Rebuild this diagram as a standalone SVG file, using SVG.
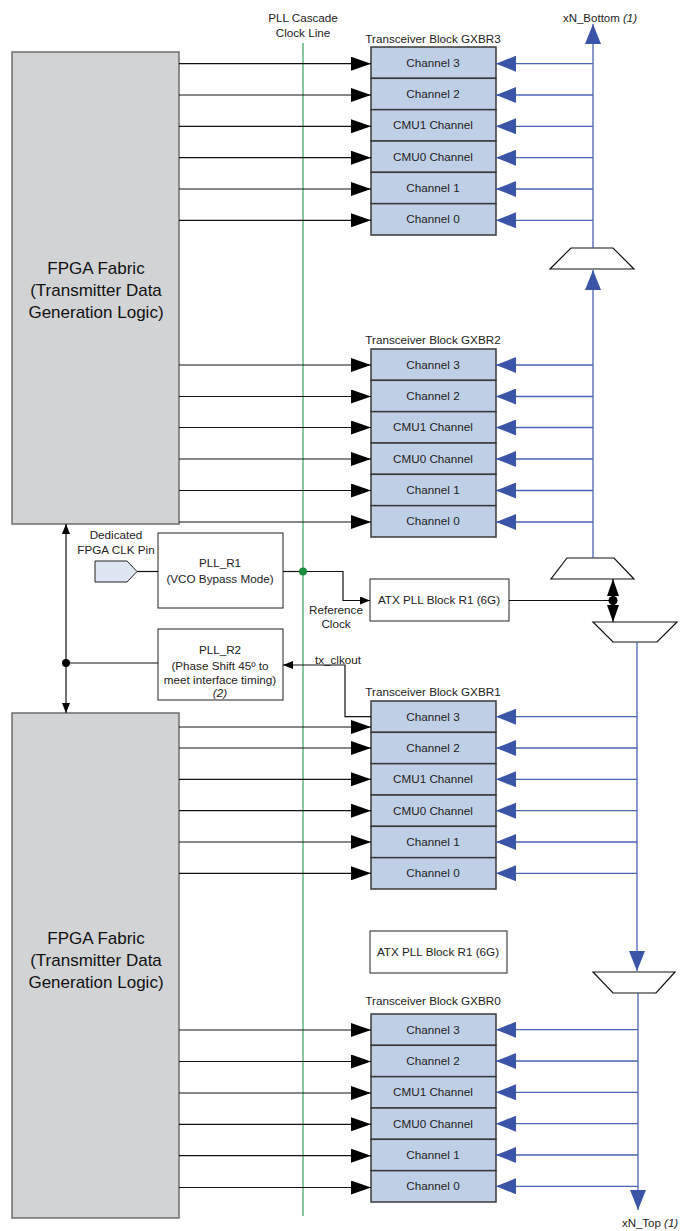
<svg xmlns="http://www.w3.org/2000/svg" width="681" height="1231" viewBox="0 0 681 1231">
<style>
text{font-family:"Liberation Sans",Arial,sans-serif;fill:#222;}
.t11{font-size:11.7px;text-anchor:middle;}
.fpga{fill:#d2d3d5;stroke:#6e6e6e;stroke-width:1.5;}
.fpt{font-size:17px;text-anchor:middle;fill:#111;}
.ch{fill:#bfd0e6;stroke:#3a3a3a;stroke-width:1.5;}
.box{fill:#fff;stroke:#222;stroke-width:1;}
.mux{fill:#fff;stroke:#111;stroke-width:1.2;}
.bk{stroke:#111;stroke-width:1.2;fill:none;}
.bl{stroke:#4a63b3;stroke-width:1.3;fill:none;}
.gr{stroke:#5fb47c;stroke-width:1.5;fill:none;}
</style>
<defs>
<marker id="ab" viewBox="0 0 20 14" refX="20" refY="7" markerWidth="20" markerHeight="14" orient="auto" markerUnits="userSpaceOnUse"><path d="M0,0L20,7L0,14z" fill="#000"/></marker>
<marker id="au" viewBox="0 0 20 16" refX="20" refY="8" markerWidth="20" markerHeight="16" orient="auto" markerUnits="userSpaceOnUse"><path d="M0,0L20,8L0,16z" fill="#3a54a8"/></marker>
<marker id="as" viewBox="0 0 10 8" refX="10" refY="4" markerWidth="10" markerHeight="8" orient="auto" markerUnits="userSpaceOnUse"><path d="M0,0L10,4L0,8z" fill="#000"/></marker>
<marker id="ad" viewBox="0 0 17 12" refX="17" refY="6" markerWidth="17" markerHeight="12" orient="auto" markerUnits="userSpaceOnUse"><path d="M0,0L17,6L0,12z" fill="#000"/></marker>
</defs>

<g id="cascade-line">
<line class="gr" x1="303" y1="43" x2="303" y2="1216"/>
<text class="t11" x="303" y="22">PLL Cascade</text>
<text class="t11" x="303" y="37">Clock Line</text>
</g>

<g id="fpga1">
<rect class="fpga" x="12" y="52" width="167" height="472"/>
<text class="fpt" x="96" y="274">FPGA Fabric</text>
<text class="fpt" x="96" y="296">(Transmitter Data</text>
<text class="fpt" x="96" y="318">Generation Logic)</text>
</g>
<g id="fpga2">
<rect class="fpga" x="12" y="713" width="167" height="505"/>
<text class="fpt" x="96" y="944">FPGA Fabric</text>
<text class="fpt" x="96" y="966">(Transmitter Data</text>
<text class="fpt" x="96" y="988">Generation Logic)</text>
</g>

<g id="gxbr3">
<text class="t11" x="433" y="43">Transceiver Block GXBR3</text>
<rect class="ch" x="371" y="47" width="125" height="31.33"/>
<rect class="ch" x="371" y="78.33" width="125" height="31.33"/>
<rect class="ch" x="371" y="109.67" width="125" height="31.33"/>
<rect class="ch" x="371" y="141" width="125" height="31.33"/>
<rect class="ch" x="371" y="172.33" width="125" height="31.33"/>
<rect class="ch" x="371" y="203.67" width="125" height="31.33"/>
<text class="t11" x="433" y="67">Channel  3</text>
<text class="t11" x="433" y="98">Channel  2</text>
<text class="t11" x="433" y="129">CMU1 Channel</text>
<text class="t11" x="433" y="161">CMU0 Channel</text>
<text class="t11" x="433" y="192">Channel  1</text>
<text class="t11" x="433" y="223">Channel  0</text>
</g>
<g id="gxbr2">
<text class="t11" x="433" y="344">Transceiver Block GXBR2</text>
<rect class="ch" x="371" y="349" width="125" height="31.33"/>
<rect class="ch" x="371" y="380.33" width="125" height="31.33"/>
<rect class="ch" x="371" y="411.67" width="125" height="31.33"/>
<rect class="ch" x="371" y="443" width="125" height="31.33"/>
<rect class="ch" x="371" y="474.33" width="125" height="31.33"/>
<rect class="ch" x="371" y="505.67" width="125" height="31.33"/>
<text class="t11" x="433" y="369">Channel  3</text>
<text class="t11" x="433" y="400">Channel  2</text>
<text class="t11" x="433" y="431">CMU1 Channel</text>
<text class="t11" x="433" y="463">CMU0 Channel</text>
<text class="t11" x="433" y="494">Channel  1</text>
<text class="t11" x="433" y="525">Channel  0</text>
</g>
<g id="gxbr1">
<text class="t11" x="433" y="696">Transceiver Block GXBR1</text>
<rect class="ch" x="371" y="701" width="125" height="31.33"/>
<rect class="ch" x="371" y="732.33" width="125" height="31.33"/>
<rect class="ch" x="371" y="763.67" width="125" height="31.33"/>
<rect class="ch" x="371" y="795" width="125" height="31.33"/>
<rect class="ch" x="371" y="826.33" width="125" height="31.33"/>
<rect class="ch" x="371" y="857.67" width="125" height="31.33"/>
<text class="t11" x="433" y="721">Channel  3</text>
<text class="t11" x="433" y="752">Channel  2</text>
<text class="t11" x="433" y="783">CMU1 Channel</text>
<text class="t11" x="433" y="815">CMU0 Channel</text>
<text class="t11" x="433" y="846">Channel  1</text>
<text class="t11" x="433" y="877">Channel  0</text>
</g>
<g id="gxbr0">
<text class="t11" x="433" y="1005">Transceiver Block GXBR0</text>
<rect class="ch" x="371" y="1014" width="125" height="31.33"/>
<rect class="ch" x="371" y="1045.33" width="125" height="31.33"/>
<rect class="ch" x="371" y="1076.67" width="125" height="31.33"/>
<rect class="ch" x="371" y="1108" width="125" height="31.33"/>
<rect class="ch" x="371" y="1139.33" width="125" height="31.33"/>
<rect class="ch" x="371" y="1170.67" width="125" height="31.33"/>
<text class="t11" x="433" y="1034">Channel  3</text>
<text class="t11" x="433" y="1065">Channel  2</text>
<text class="t11" x="433" y="1096">CMU1 Channel</text>
<text class="t11" x="433" y="1128">CMU0 Channel</text>
<text class="t11" x="433" y="1159">Channel  1</text>
<text class="t11" x="433" y="1190">Channel  0</text>
</g>

<g id="pll-r1">
<rect class="box" x="158" y="533" width="125" height="75"/>
<text class="t11" x="220" y="567">PLL_R1</text>
<text class="t11" x="220" y="583">(VCO Bypass Mode)</text>
</g>
<g id="pll-r2">
<rect class="box" x="158" y="629" width="125" height="71"/>
<text class="t11" x="220" y="654">PLL_R2</text>
<text class="t11" x="220" y="670">(Phase Shift 45º to</text>
<text class="t11" x="220" y="684">meet interface timing)</text>
<text class="t11" x="220" y="697" font-style="italic" font-size="10px">(2)</text>
</g>
<g id="clk-pin">
<path d="M95,561H127L137,571.5L127,582H95Z" fill="#dfe6f3" stroke="#222" stroke-width="1"/>
<text class="t11" x="116" y="539">Dedicated</text>
<text class="t11" x="116" y="554">FPGA CLK Pin</text>
</g>
<g id="atx1">
<rect class="box" x="370" y="579" width="139" height="42"/>
<text class="t11" x="439" y="604">ATX PLL Block R1 (6G)</text>
</g>
<g id="atx0">
<rect class="box" x="370" y="931" width="137" height="42"/>
<text class="t11" x="438" y="956">ATX PLL Block R1 (6G)</text>
</g>
<g id="mux1"><path class="mux" d="M571,248H613L634,269H550Z"/></g>
<g id="mux2"><path class="mux" d="M567,558H614L634,579H551Z"/></g>
<g id="mux3"><path class="mux" d="M593,622H677L657,642H613Z"/></g>
<g id="mux4"><path class="mux" d="M593,972H675L656,993H613Z"/></g>

<g id="labels">
<text x="600" y="22" font-size="11.5px" text-anchor="middle">xN_Bottom <tspan font-style="italic">(1)</tspan></text>
<text x="650" y="1227" font-size="11.5px" text-anchor="middle">xN_Top <tspan font-style="italic">(1)</tspan></text>
<text class="t11" x="336" y="614">Reference</text>
<text class="t11" x="336" y="628">Clock</text>
<text class="t11" x="338" y="664">tx_clkout</text>
</g>

<g id="connectors">
<g class="bk" marker-end="url(#ab)">
<line x1="179" y1="63.7" x2="371" y2="63.7"/>
<line x1="179" y1="95" x2="371" y2="95"/>
<line x1="179" y1="126.3" x2="371" y2="126.3"/>
<line x1="179" y1="157.7" x2="371" y2="157.7"/>
<line x1="179" y1="189" x2="371" y2="189"/>
<line x1="179" y1="220.3" x2="371" y2="220.3"/>
<line x1="179" y1="365" x2="371" y2="365"/>
<line x1="179" y1="396.5" x2="371" y2="396.5"/>
<line x1="179" y1="427.5" x2="371" y2="427.5"/>
<line x1="179" y1="459" x2="371" y2="459"/>
<line x1="179" y1="490.5" x2="371" y2="490.5"/>
<line x1="179" y1="522" x2="371" y2="522"/>
<line x1="179" y1="727" x2="371" y2="727"/>
<line x1="179" y1="748" x2="371" y2="748"/>
<line x1="179" y1="779.3" x2="371" y2="779.3"/>
<line x1="179" y1="810.7" x2="371" y2="810.7"/>
<line x1="179" y1="842" x2="371" y2="842"/>
<line x1="179" y1="873.3" x2="371" y2="873.3"/>
<line x1="179" y1="1030" x2="371" y2="1030"/>
<line x1="179" y1="1061.5" x2="371" y2="1061.5"/>
<line x1="179" y1="1093" x2="371" y2="1093"/>
<line x1="179" y1="1124.3" x2="371" y2="1124.3"/>
<line x1="179" y1="1155.7" x2="371" y2="1155.7"/>
<line x1="179" y1="1187.5" x2="371" y2="1187.5"/>
</g>
<g class="bl" marker-end="url(#au)">
<line x1="593" y1="63.7" x2="496" y2="63.7"/>
<line x1="593" y1="95" x2="496" y2="95"/>
<line x1="593" y1="126.3" x2="496" y2="126.3"/>
<line x1="593" y1="157.7" x2="496" y2="157.7"/>
<line x1="593" y1="189" x2="496" y2="189"/>
<line x1="593" y1="220.3" x2="496" y2="220.3"/>
<line x1="593" y1="365" x2="496" y2="365"/>
<line x1="593" y1="396.5" x2="496" y2="396.5"/>
<line x1="593" y1="427.5" x2="496" y2="427.5"/>
<line x1="593" y1="459" x2="496" y2="459"/>
<line x1="593" y1="490.5" x2="496" y2="490.5"/>
<line x1="593" y1="522" x2="496" y2="522"/>
<line x1="637" y1="716.7" x2="496" y2="716.7"/>
<line x1="637" y1="748" x2="496" y2="748"/>
<line x1="637" y1="779.3" x2="496" y2="779.3"/>
<line x1="637" y1="810.7" x2="496" y2="810.7"/>
<line x1="637" y1="842" x2="496" y2="842"/>
<line x1="637" y1="873.3" x2="496" y2="873.3"/>
<line x1="638" y1="1029.7" x2="496" y2="1029.7"/>
<line x1="638" y1="1061" x2="496" y2="1061"/>
<line x1="638" y1="1092.3" x2="496" y2="1092.3"/>
<line x1="638" y1="1123.7" x2="496" y2="1123.7"/>
<line x1="638" y1="1155" x2="496" y2="1155"/>
<line x1="638" y1="1186.3" x2="496" y2="1186.3"/>
<line x1="593" y1="248" x2="593" y2="24"/>
<line x1="593" y1="558" x2="593" y2="270"/>
<line x1="637" y1="642" x2="637" y2="971"/>
<line x1="638" y1="993" x2="638" y2="1210"/>
</g>
<line class="bk" x1="137" y1="571.5" x2="158" y2="571.5"/>
<line class="bk" x1="283" y1="571.5" x2="303" y2="571.5"/>
<polyline class="bk" points="303,571.5 343,571.5 343,600.5 370,600.5" marker-end="url(#as)"/>
<circle cx="303" cy="571.5" r="4" fill="#1b8c3c"/>
<polyline class="bk" points="371,716.7 345,716.7 345,665 283,665" marker-end="url(#as)"/>
<line class="bk" x1="66" y1="663" x2="158" y2="663"/>
<line class="bk" x1="66" y1="600" x2="66" y2="524" marker-end="url(#as)"/>
<line class="bk" x1="66" y1="600" x2="66" y2="713" marker-end="url(#as)"/>
<circle cx="66" cy="663" r="4" fill="#000"/>
<line class="bk" x1="509" y1="600.5" x2="613" y2="600.5"/>
<line class="bk" x1="613" y1="600.5" x2="613" y2="579" marker-end="url(#ad)"/>
<line class="bk" x1="613" y1="600.5" x2="613" y2="622" marker-end="url(#ad)"/>
<circle cx="613" cy="600.5" r="4.5" fill="#000"/>
</g>
</svg>
